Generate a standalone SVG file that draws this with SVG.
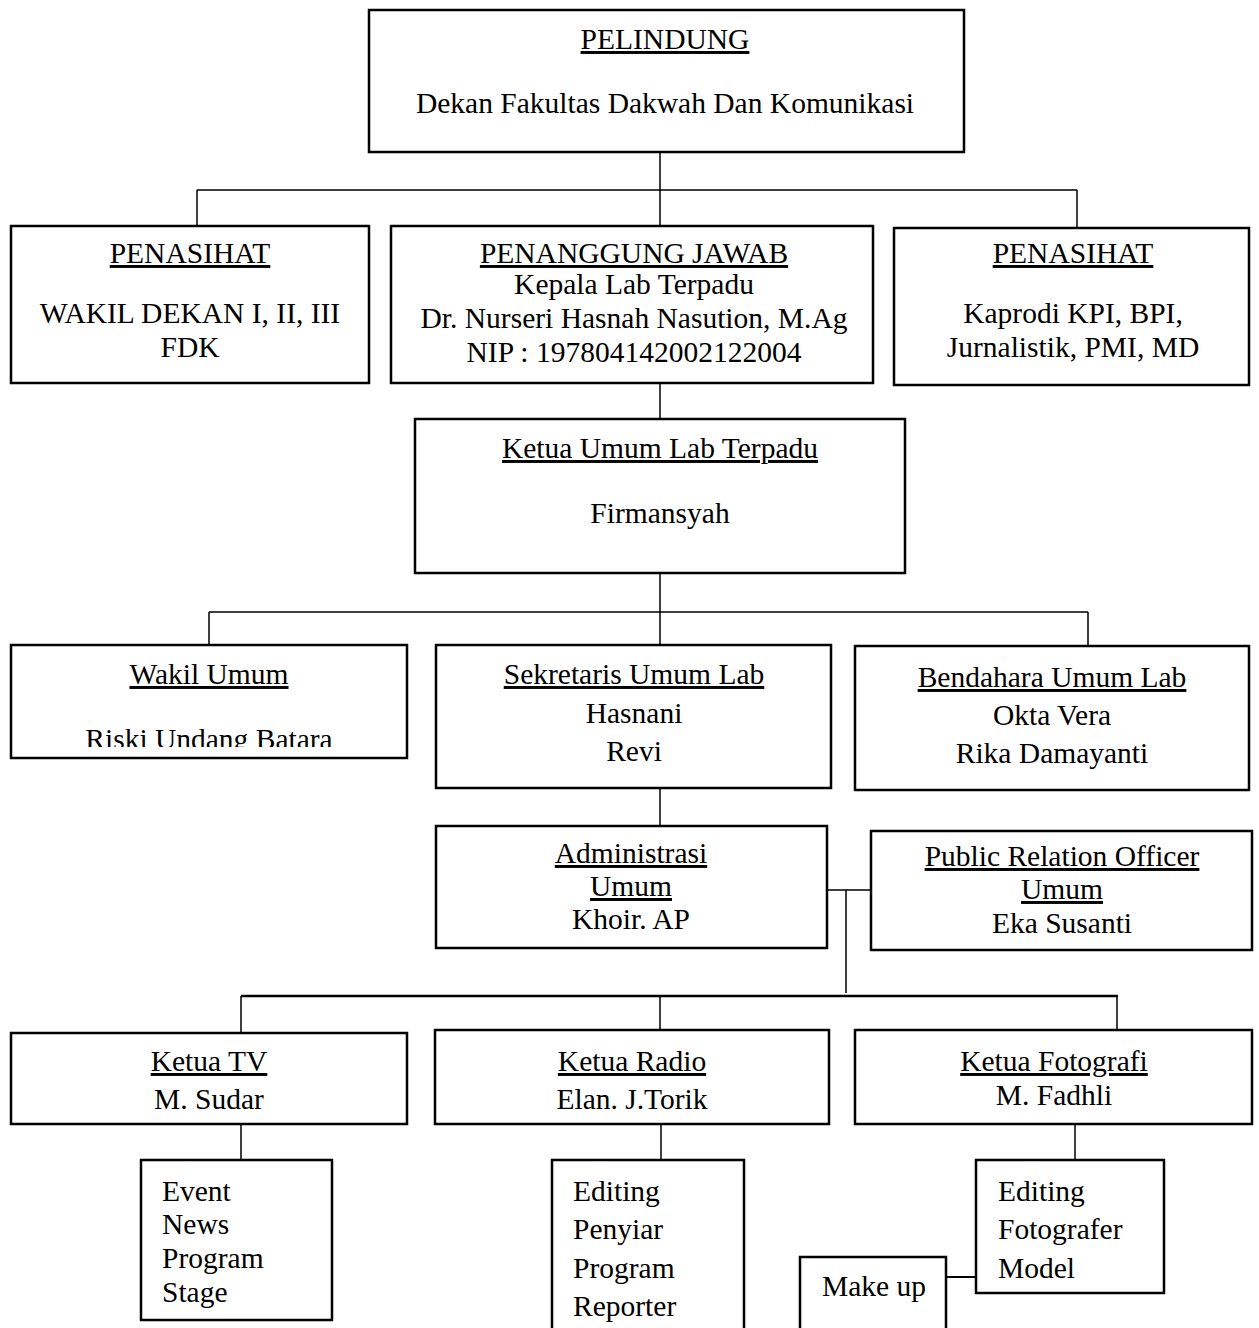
<svg xmlns="http://www.w3.org/2000/svg" width="1259" height="1328" viewBox="0 0 1259 1328">
<style>
.b{fill:#fff;stroke:#000;stroke-width:2.5}
.c{fill:none;stroke:#000;stroke-width:1.5}
.t{font-family:"Liberation Serif","Times New Roman",serif;font-size:29.5px;fill:#000}
.m{text-anchor:middle}
.u{text-decoration:underline}
</style>
<defs>
<clipPath id="clipWakil"><rect x="0" y="700" width="420" height="47"/></clipPath>
</defs>
<rect x="0" y="0" width="1259" height="1328" fill="#fff"/>
<g id="connectors">
<path class="c" d="M660 152V226M197 190H1077M197 190V226M1077 190V228"/>
<path class="c" d="M660 383V419"/>
<path class="c" d="M660 573V645M209 612H1088M209 612V645M1088 612V646"/>
<path class="c" d="M660 788V826"/>
<path class="c" d="M827 890H871M846 890V993"/>
<path class="c" d="M241 996H1118" style="stroke-width:2.5"/>
<path class="c" d="M241 996V1033M660 996V1030M1117 996V1030"/>
<path class="c" d="M241 1124V1160M661 1124V1160M1075 1124V1160"/>
<path class="c" d="M946 1277H976" style="stroke-width:2"/>
</g>
<g id="pelindung">
<rect class="b" x="369" y="10" width="595" height="142"/>
<text class="t m u" x="665" y="49">PELINDUNG</text>
<text class="t m" x="665" y="113">Dekan Fakultas Dakwah Dan Komunikasi</text>
</g>
<g id="penasihat1">
<rect class="b" x="11" y="226" width="358" height="157"/>
<text class="t m u" x="190" y="263">PENASIHAT</text>
<text class="t m" x="190" y="323">WAKIL DEKAN I, II, III</text>
<text class="t m" x="190" y="357">FDK</text>
</g>
<g id="penanggung">
<rect class="b" x="391" y="226" width="482" height="157"/>
<text class="t m u" x="634" y="263">PENANGGUNG JAWAB</text>
<text class="t m" x="634" y="294">Kepala Lab Terpadu</text>
<text class="t m" x="634" y="328">Dr. Nurseri Hasnah Nasution, M.Ag</text>
<text class="t m" x="634" y="362">NIP : 197804142002122004</text>
</g>
<g id="penasihat2">
<rect class="b" x="894" y="228" width="355" height="157"/>
<text class="t m u" x="1073" y="263">PENASIHAT</text>
<text class="t m" x="1073" y="323">Kaprodi KPI, BPI,</text>
<text class="t m" x="1073" y="357">Jurnalistik, PMI, MD</text>
</g>
<g id="ketuaumum">
<rect class="b" x="415" y="419" width="490" height="154"/>
<text class="t m u" x="660" y="458">Ketua Umum Lab Terpadu</text>
<text class="t m" x="660" y="523">Firmansyah</text>
</g>
<g id="wakil">
<rect class="b" x="11" y="645" width="396" height="113"/>
<text class="t m u" x="209" y="684">Wakil Umum</text>
<text class="t m" x="209" y="749" clip-path="url(#clipWakil)">Riski Undang Batara</text>
</g>
<g id="sekretaris">
<rect class="b" x="436" y="645" width="395" height="143"/>
<text class="t m u" x="634" y="684">Sekretaris Umum Lab</text>
<text class="t m" x="634" y="723">Hasnani</text>
<text class="t m" x="634" y="761">Revi</text>
</g>
<g id="bendahara">
<rect class="b" x="855" y="646" width="394" height="144"/>
<text class="t m u" x="1052" y="687">Bendahara Umum Lab</text>
<text class="t m" x="1052" y="725">Okta Vera</text>
<text class="t m" x="1052" y="763">Rika Damayanti</text>
</g>
<g id="administrasi">
<rect class="b" x="436" y="826" width="391" height="122"/>
<text class="t m u" x="631" y="863">Administrasi</text>
<text class="t m u" x="631" y="896">Umum</text>
<text class="t m" x="631" y="929">Khoir. AP</text>
</g>
<g id="pro">
<rect class="b" x="871" y="831" width="381" height="119"/>
<text class="t m u" x="1062" y="866">Public Relation Officer</text>
<text class="t m u" x="1062" y="899">Umum</text>
<text class="t m" x="1062" y="933">Eka Susanti</text>
</g>
<g id="ketuatv">
<rect class="b" x="11" y="1033" width="396" height="91"/>
<text class="t m u" x="209" y="1071">Ketua TV</text>
<text class="t m" x="209" y="1109">M. Sudar</text>
</g>
<g id="ketuaradio">
<rect class="b" x="435" y="1030" width="394" height="94"/>
<text class="t m u" x="632" y="1071">Ketua Radio</text>
<text class="t m" x="632" y="1109">Elan. J.Torik</text>
</g>
<g id="ketuafoto">
<rect class="b" x="855" y="1030" width="397" height="94"/>
<text class="t m u" x="1054" y="1071">Ketua Fotografi</text>
<text class="t m" x="1054" y="1105">M. Fadhli</text>
</g>
<g id="tvlist">
<rect class="b" x="141" y="1160" width="191" height="160"/>
<text class="t" x="162" y="1201">Event</text>
<text class="t" x="162" y="1234">News</text>
<text class="t" x="162" y="1268">Program</text>
<text class="t" x="162" y="1302">Stage</text>
</g>
<g id="radiolist">
<rect class="b" x="552" y="1160" width="192" height="180"/>
<text class="t" x="573" y="1201">Editing</text>
<text class="t" x="573" y="1239">Penyiar</text>
<text class="t" x="573" y="1278">Program</text>
<text class="t" x="573" y="1316">Reporter</text>
</g>
<g id="fotolist">
<rect class="b" x="976" y="1160" width="188" height="133"/>
<text class="t" x="998" y="1201">Editing</text>
<text class="t" x="998" y="1239">Fotografer</text>
<text class="t" x="998" y="1278">Model</text>
</g>
<g id="makeup">
<rect class="b" x="800" y="1257" width="146" height="90"/>
<text class="t" x="822" y="1296">Make up</text>
</g>
</svg>
